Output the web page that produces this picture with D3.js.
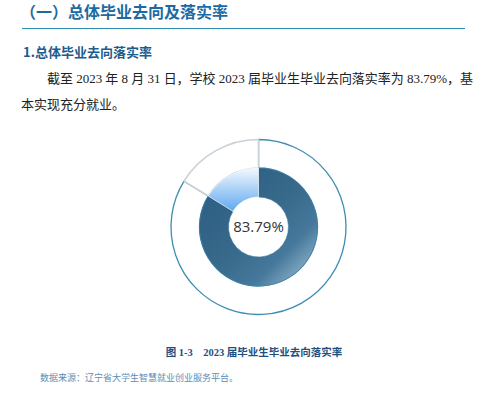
<!DOCTYPE html>
<html>
<head>
<meta charset="utf-8">
<script src="https://cdn.jsdelivr.net/npm/d3@7"></script>
<style>
  html, body { margin: 0; padding: 0; background: #fff; }
  svg { display: block; }
</style>
</head>
<body>
<div id="chart"></div>
<script>
// ---- data ----
const categories = ["已落实", "未落实"];
const values = [83.79, 16.21];
const centerLabel = "83.79%";
const titleText = "（一）总体毕业去向及落实率";
const subtitleText = "1.总体毕业去向落实率";
const paraLine1 = "截至 2023 年 8 月 31 日，学校 2023 届毕业生毕业去向落实率为 83.79%，基";
const paraLine2 = "本实现充分就业。";
const captionText = "图 1-3　2023 届毕业生毕业去向落实率";
const sourceText = "数据来源：辽宁省大学生智慧就业创业服务平台。";

const W = 482, H = 411;
const svg = d3.select("#chart").append("svg")
  .attr("width", W).attr("height", H)
  .attr("viewBox", `0 0 ${W} ${H}`);
svg.append("rect").attr("width", W).attr("height", H).attr("fill", "#fff");

const sansCJK = "'Noto Sans CJK SC', 'Noto Sans', sans-serif";
const serifMix = "'Liberation Serif', 'Times New Roman', 'Noto Sans CJK SC', serif";

// Title
svg.append("text").attr("x", 20).attr("y", 18)
  .attr("font-family", sansCJK).attr("font-weight", 700)
  .attr("font-size", 16).attr("fill", "#1d6aa3")
  .text(titleText);
svg.append("line").attr("x1", 22).attr("x2", 465).attr("y1", 28.5).attr("y2", 28.5)
  .attr("stroke", "#2e8db3").attr("stroke-width", 1.2);

// Subtitle
svg.append("text").attr("x", 23).attr("y", 57)
  .attr("font-family", sansCJK).attr("font-weight", 700)
  .attr("font-size", 13).attr("fill", "#1b5d8e")
  .text(subtitleText);

// Paragraph
svg.append("text").attr("x", 47).attr("y", 82.5)
  .attr("font-family", serifMix).attr("font-size", 13).attr("fill", "#222")
  .attr("textLength", 426).attr("lengthAdjust", "spacing")
  .text(paraLine1);
svg.append("text").attr("x", 21).attr("y", 108.5)
  .attr("font-family", serifMix).attr("font-size", 13).attr("fill", "#222")
  .text(paraLine2);

// ---- donut ----
const cx = 258.5, cy = 227;
const rIn = 30, rMid = 59, rOut = 87.5;
const g = svg.append("g").attr("transform", `translate(${cx},${cy})`);

const defs = svg.append("defs");
const gBig = defs.append("linearGradient").attr("id", "gBig")
  .attr("gradientUnits", "userSpaceOnUse")
  .attr("x1", -rMid).attr("y1", -rMid).attr("x2", rMid).attr("y2", rMid);
[[0, "#2a5a82"], [0.5, "#386a8b"], [0.72, "#45789a"], [1, "#b3cfe2"]]
  .forEach(([o, c]) => gBig.append("stop").attr("offset", o).attr("stop-color", c));
const gSmall = defs.append("linearGradient").attr("id", "gSmall")
  .attr("gradientUnits", "userSpaceOnUse")
  .attr("x1", 0).attr("y1", -rMid).attr("x2", 0).attr("y2", -18);
[[0, "#f3f8fe"], [1, "#66adef"]]
  .forEach(([o, c]) => gSmall.append("stop").attr("offset", o).attr("stop-color", c));

const pie = d3.pie().sort(null).value(d => d);
const arcs = pie(values);

const outerArc = d3.arc().innerRadius(rMid).outerRadius(rOut);
const innerArc = d3.arc().innerRadius(rIn).outerRadius(rMid);

const ringStroke = ["#3d8db0", "#c9d1d8"];
const ringWidth = [1.3, 1.6];
g.selectAll("path.ring").data(arcs).enter().append("path")
  .attr("class", "ring")
  .attr("d", outerArc)
  .attr("fill", "#fff")
  .attr("stroke", (d, i) => ringStroke[i])
  .attr("stroke-width", (d, i) => ringWidth[i])
  .attr("stroke-linejoin", "round");

const fills = ["url(#gBig)", "url(#gSmall)"];
g.selectAll("path.donut").data(arcs).enter().append("path")
  .attr("class", "donut")
  .attr("d", innerArc)
  .attr("fill", (d, i) => fills[i])
  .attr("stroke", (d, i) => i === 0 ? "#3f7c9c" : "#ffffff")
  .attr("stroke-width", 0.6);

g.append("text").attr("x", 0).attr("y", 0).attr("dy", "0.36em")
  .attr("text-anchor", "middle")
  .attr("font-family", "'Open Sans', 'Noto Sans', sans-serif")
  .attr("font-size", 15).attr("fill", "#333")
  .text(centerLabel);

// Caption
svg.append("text").attr("x", 254).attr("y", 356)
  .attr("text-anchor", "middle")
  .attr("font-family", serifMix).attr("font-weight", 700)
  .attr("font-size", 10.5).attr("fill", "#1f4f7e")
  .text(captionText);

// Source
svg.append("text").attr("x", 40).attr("y", 380.5)
  .attr("font-family", sansCJK)
  .attr("font-size", 9).attr("fill", "#5d8cb6")
  .text(sourceText);
</script>
</body>
</html>
